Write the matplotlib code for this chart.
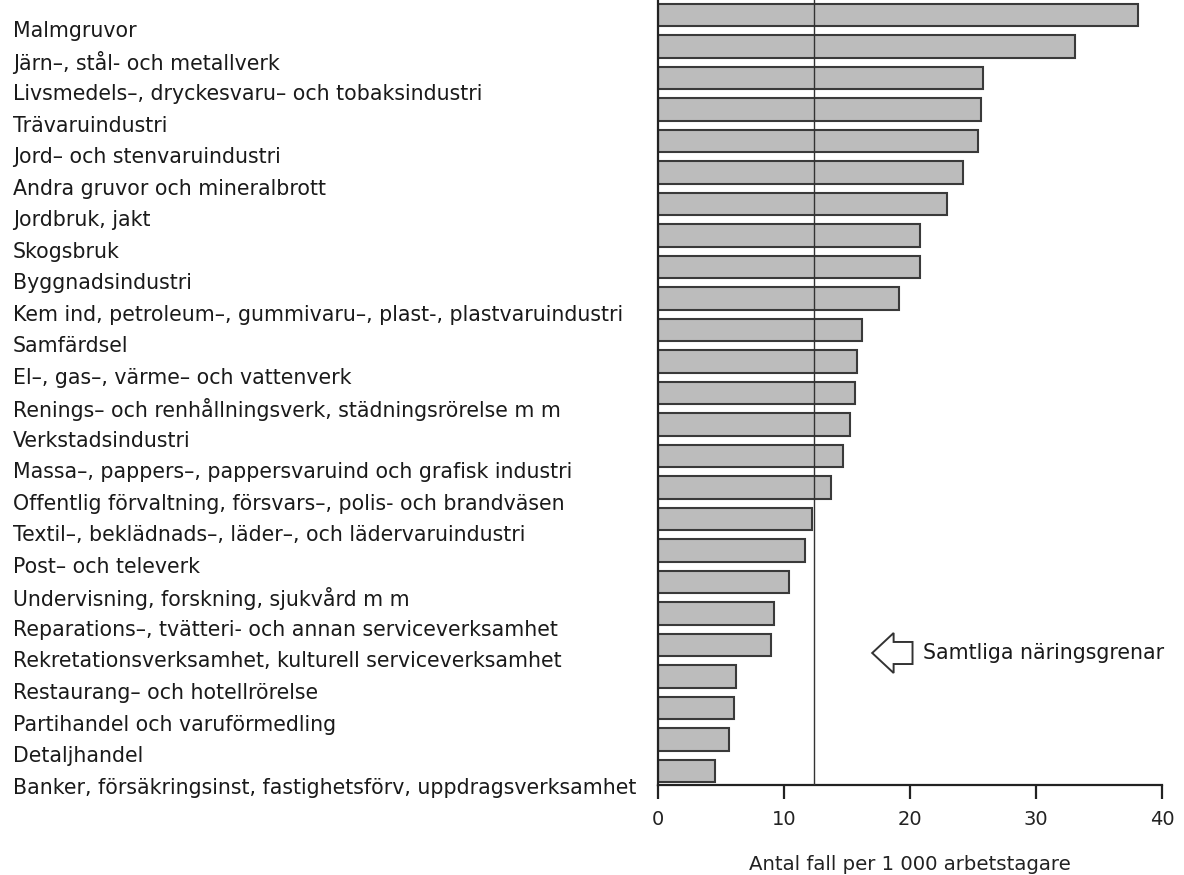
import matplotlib
matplotlib.use("Agg")
import matplotlib.pyplot as plt
import matplotlib.transforms as mtransforms
from matplotlib.patches import FancyArrow

plt.rcParams['font.family'] = ['DejaVu Sans']

categories = [
    "Malmgruvor",
    "Järn–, stål- och metallverk",
    "Livsmedels–, dryckesvaru– och tobaksindustri",
    "Trävaruindustri",
    "Jord– och stenvaruindustri",
    "Andra gruvor och mineralbrott",
    "Jordbruk, jakt",
    "Skogsbruk",
    "Byggnadsindustri",
    "Kem ind, petroleum–, gummivaru–, plast-, plastvaruindustri",
    "Samfärdsel",
    "El–, gas–, värme– och vattenverk",
    "Renings– och renhållningsverk, städningsrörelse m m",
    "Verkstadsindustri",
    "Massa–, pappers–, pappersvaruind och grafisk industri",
    "Offentlig förvaltning, försvars–, polis- och brandväsen",
    "Textil–, beklädnads–, läder–, och lädervaruindustri",
    "Post– och televerk",
    "Undervisning, forskning, sjukvård m m",
    "Reparations–, tvätteri- och annan serviceverksamhet",
    "Rekretationsverksamhet, kulturell serviceverksamhet",
    "Restaurang– och hotellrörelse",
    "Partihandel och varuförmedling",
    "Detaljhandel",
    "Banker, försäkringsinst, fastighetsförv, uppdragsverksamhet",
]
values = [38.1, 33.1, 25.8, 25.6, 25.4, 24.2, 22.9, 20.8, 20.8, 19.1,
          16.2, 15.8, 15.6, 15.2, 14.7, 13.7, 12.2, 11.7, 10.4, 9.2,
          9.0, 6.2, 6.0, 5.6, 4.5]
average_all = 12.4
average_label = "Samtliga näringsgrenar"
xticks = [0, 10, 20, 30, 40]
xlabel = "Antal fall per 1 000 arbetstagare"

W, H = 1184, 875
fig = plt.figure(figsize=(W / 100, H / 100), dpi=100)
ax = fig.add_axes([658 / W, 90 / H, (1162 - 658) / W, 785 / H])

n = len(categories)
pos = [n - 1 - i for i in range(n)]
ax.barh(pos, values, height=0.71, color="#bcbcbc", edgecolor="#3a3a3a",
        linewidth=1.5, zorder=2)
ax.axvline(average_all, color="#333333", linewidth=1.0, zorder=3)

ax.set_xlim(0, 40)
ax.set_ylim(-0.44, n - 1 + 0.476)
ax.set_xticks(xticks)
ax.set_xticklabels([str(t) for t in xticks], fontsize=14, color="#222222")
ax.tick_params(axis='x', direction='out', length=10, width=1.6, pad=8,
               colors="#222222")
ax.set_yticks([])
for s in ["top", "right"]:
    ax.spines[s].set_visible(False)
ax.spines["left"].set_linewidth(1.6)
ax.spines["bottom"].set_linewidth(1.6)
ax.spines["left"].set_color("#222222")
ax.spines["bottom"].set_color("#222222")
ax.set_xlabel(xlabel, fontsize=14.2, color="#222222", labelpad=19)

trans = mtransforms.blended_transform_factory(fig.transFigure, ax.transData)
for p, lab in zip(pos, categories):
    ax.text(13 / W, p - 0.52, lab, transform=trans, ha="left", va="center",
            fontsize=14.8, color="#1a1a1a", clip_on=False)

# hollow arrow + label for the overall average
arr = FancyArrow(20.2, 3.75, -3.2, 0, width=0.7, head_width=1.27,
                 head_length=1.7, length_includes_head=True,
                 facecolor="white", edgecolor="#333333", linewidth=1.4,
                 zorder=4)
ax.add_patch(arr)
ax.text(21.0, 3.75, average_label, ha="left", va="center", fontsize=14.8,
        color="#1a1a1a")

fig.savefig("out.png", dpi=100, facecolor="white")
